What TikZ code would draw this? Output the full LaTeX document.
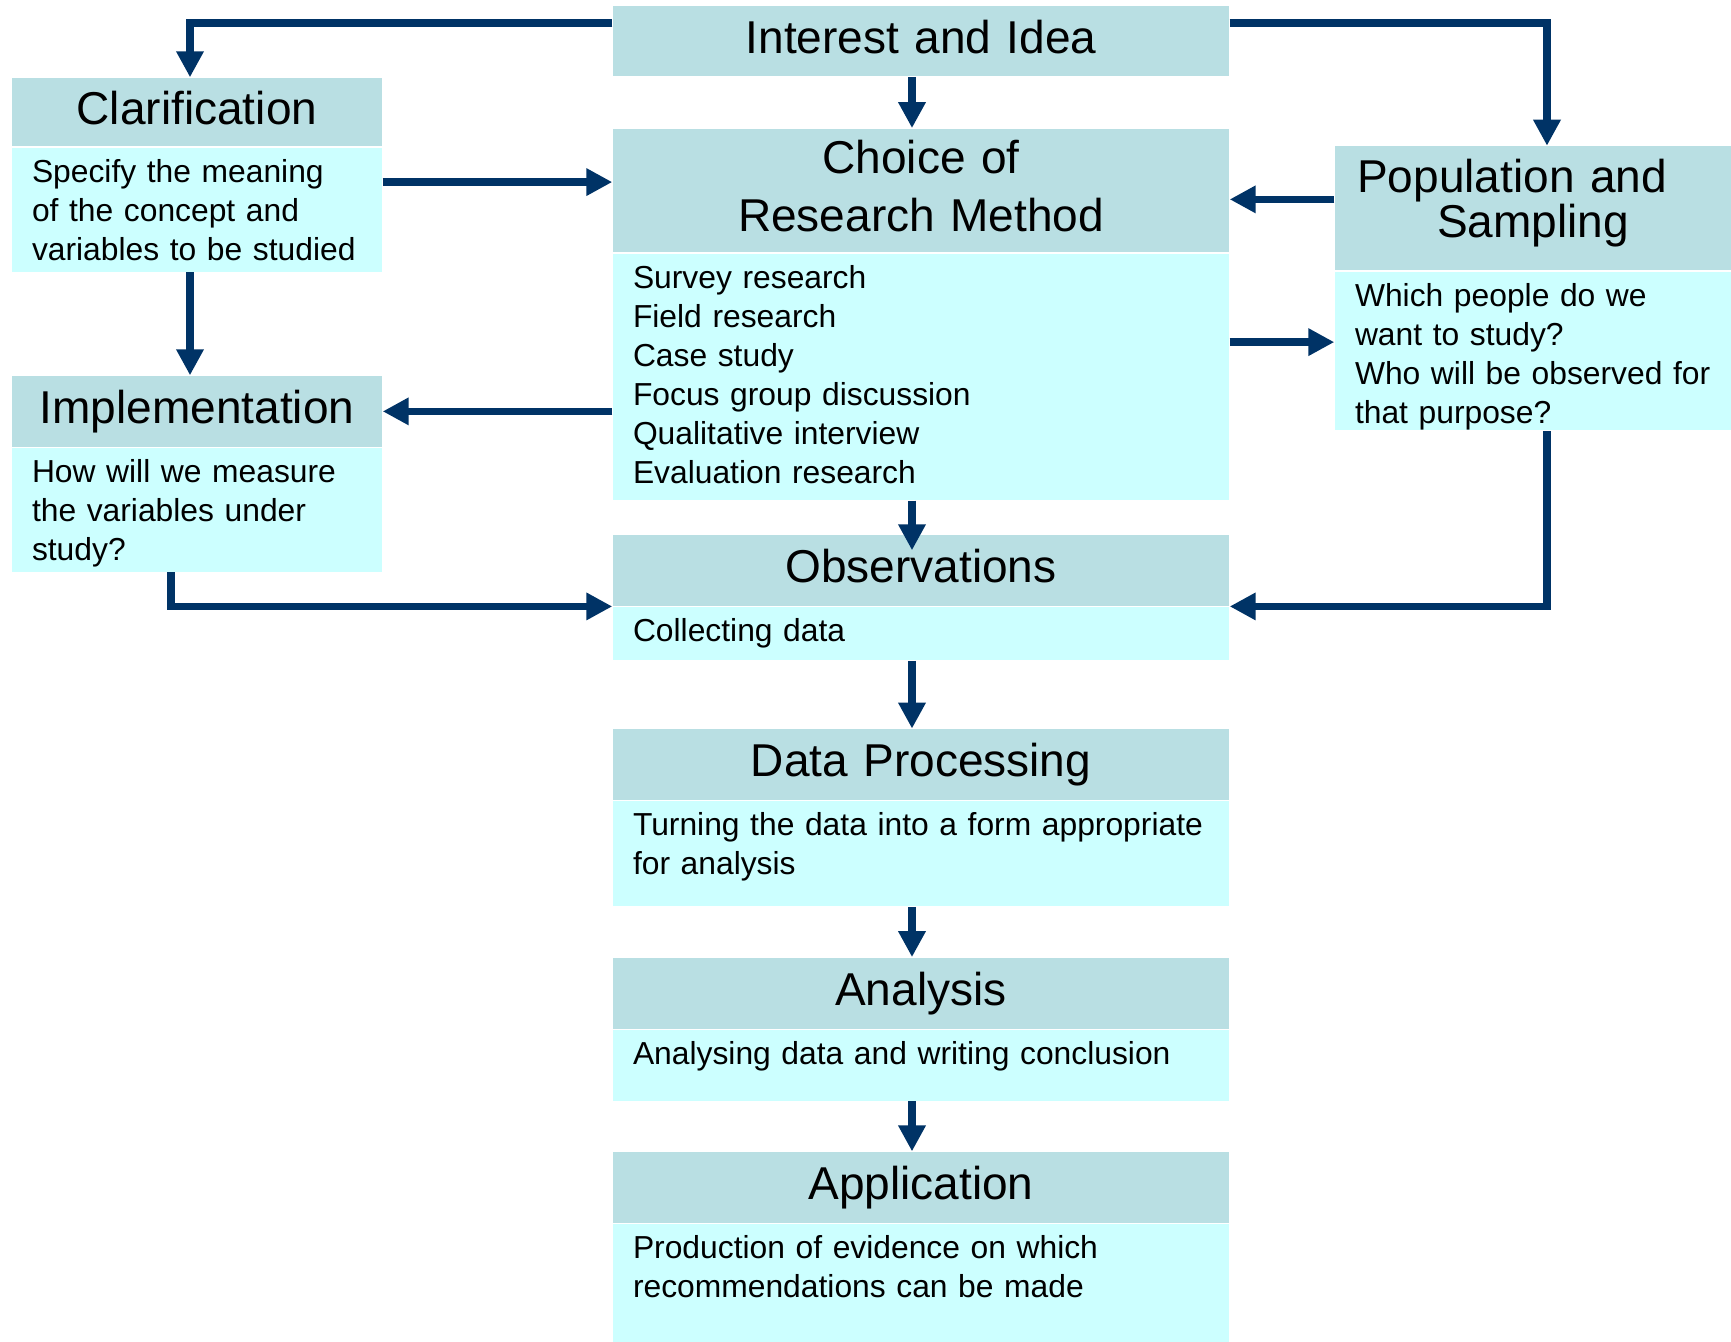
\documentclass[tikz,border=0pt]{standalone}
\usepackage{fontspec}
\setmainfont{Liberation Sans}
\usetikzlibrary{arrows.meta, positioning, calc}
\definecolor{headcol}{RGB}{185,223,227}
\definecolor{bodycol}{RGB}{204,255,255}
\definecolor{arrcol}{RGB}{0,51,102}
\newcommand{\headfont}{\fontsize{13.1}{16.3}\selectfont}
\newcommand{\bodyfont}{\fontsize{9.05}{11.1}\selectfont}

\begin{document}
\begin{tikzpicture}[
    headbox/.style={fill=headcol, anchor=north, inner sep=0pt, align=center, font=\headfont, minimum height=#1,
        execute at begin node=\vphantom{Pg}, execute at end node=\vphantom{Pg}}, % title bar
    bodybox/.style={fill=bodycol, anchor=north, inner sep=0pt, align=left, font=\bodyfont,
        text height=3.45mm, text depth=#1-3.45mm, execute at begin node={\leftskip=2mm}}, % text area under a title bar
    lcol/.style={text width=3.70cm}, % left column
    mcol/.style={text width=6.16cm}, % middle column
    rcol/.style={text width=3.96cm}, % right column
    arr/.style={draw=arrcol, line width=2.2pt, -{Triangle[length=2.6mm, width=2.6mm]}} % connector
]
    \useasboundingbox (0,0) rectangle (17.31,-13.41);

    % 1. middle column
    \node[headbox=0.70cm, mcol] (intr) at (9.21,-0.055) {Interest and Idea};
    \node[headbox=1.236cm, mcol] (choicehead) at (9.21,-1.281) {Choice of\\Research Method};
    \node[bodybox=2.46cm, mcol] (choicebody) at (choicehead.south)
        {Survey research\\Field research\\Case study\\Focus group discussion\\Qualitative interview\\Evaluation research};
    \node[headbox=0.707cm, mcol] (obshead) at (9.21,-5.343) {Observations};
    \node[bodybox=0.53cm, mcol] (obsbody) at (obshead.south) {Collecting data};
    \node[headbox=0.707cm, mcol] (datahead) at (9.21,-7.286) {Data Processing};
    \node[bodybox=1.048cm, mcol] (databody) at (datahead.south)
        {Turning the data into a form appropriate\\for analysis};
    \node[headbox=0.707cm, mcol] (anahead) at (9.21,-9.571) {Analysis};
    \node[bodybox=0.706cm, mcol] (anabody) at (anahead.south) {Analysing data and writing conclusion};
    \node[headbox=0.707cm, mcol] (apphead) at (9.21,-11.514) {Application};
    \node[bodybox=1.19cm, mcol] (appbody) at (apphead.south)
        {Production of evidence on which\\recommendations can be made};

    % 2. left column
    \node[headbox=0.684cm, lcol] (clarhead) at (1.97,-0.773) {Clarification};
    \node[bodybox=1.237cm, lcol] (clarbody) at (clarhead.south)
        {Specify the meaning\\of the concept and\\variables to be studied};
    \node[headbox=0.707cm, lcol] (implhead) at (1.97,-3.753) {Implementation};
    \node[bodybox=1.236cm, lcol] (implbody) at (implhead.south)
        {How will we measure\\the variables under\\study?};

    % 3. right column (tighter lines in this title)
    \node[headbox=1.237cm, rcol, font={\fontsize{13.1}{12.8}\selectfont}, text depth=0.65cm] (pophead)
        at (15.33,-1.457) {Population and\rule{0.42cm}{0pt}\\Sampling};
    \node[bodybox=1.589cm, rcol] (popbody) at (pophead.south)
        {Which people do we\\want to study?\\Who will be observed for\\that purpose?};

    % 4. connectors
    \draw[arr] ([yshift=1.84mm]intr.west) -| ([xshift=-0.7mm]clarhead.north);
    \draw[arr] ([yshift=1.84mm]intr.east) -| ([xshift=1.4mm]pophead.north);
    \draw[arr] ([xshift=-0.9mm]intr.south) -- ([xshift=-0.9mm]choicehead.north);

    \coordinate (cl) at ([yshift=2.76mm]clarbody.east);
    \draw[arr] (cl) -- (cl -| choicehead.west);
    \draw[arr] ([xshift=-0.7mm]clarbody.south) -- ([xshift=-0.7mm]implhead.north);

    \coordinate (pl) at ([yshift=0.89mm]pophead.west);
    \draw[arr] (pl) -- (pl -| choicehead.east);
    \coordinate (cr) at ([yshift=3.47mm]choicebody.east);
    \draw[arr] (cr) -- (cr -| popbody.west);
    \draw[arr] (implhead.east -| choicebody.west) -- (implhead.east);

    \draw[arr] ([xshift=-0.9mm]choicebody.south) -- ([xshift=-0.9mm, yshift=-1.6mm]obshead.north);
    \draw[arr] ([xshift=-2.6mm]implbody.south) |- (obshead.south west);
    \draw[arr] ([xshift=1.4mm]popbody.south) |- (obshead.south east);

    % 5. downward chain
    \draw[arr] ([xshift=-0.9mm]obsbody.south) -- ([xshift=-0.9mm]datahead.north);
    \draw[arr] ([xshift=-0.9mm]databody.south) -- ([xshift=-0.9mm]anahead.north);
    \draw[arr] ([xshift=-0.9mm]anabody.south) -- ([xshift=-0.9mm]apphead.north);
\end{tikzpicture}
\end{document}
